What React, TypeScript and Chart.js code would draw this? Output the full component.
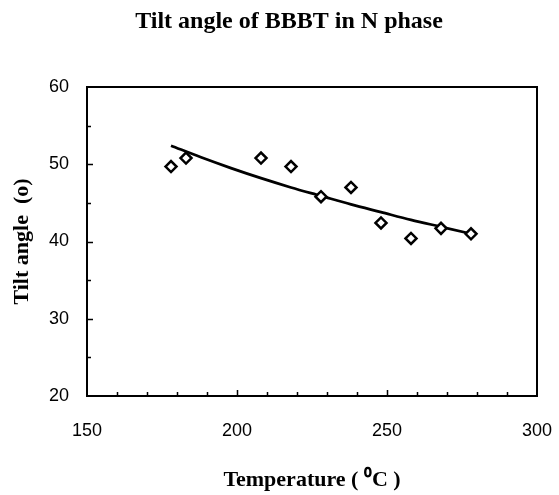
import React, { useEffect, useRef } from "react";
import { Chart, registerables } from "chart.js";

Chart.register(...registerables);

const titleText = "Tilt angle of BBBT in N phase";
const xTitle = "Temperature ( \u2070C )";
const yTitle = "Tilt angle  (o)";

const temperature = [178, 183, 208, 218, 228, 238, 248, 258, 268, 278];
const tiltAngle = [49.7, 50.8, 50.8, 49.7, 45.8, 47.0, 42.4, 40.4, 41.7, 41.0];

const fitTemperature = [178, 188, 198, 208, 218, 228, 238, 248, 258, 268, 278];
const fitAngle = [52.4, 50.9, 49.5, 48.2, 47.0, 45.9, 44.8, 43.8, 42.8, 41.9, 41.0];

const xMin = 150, xMax = 300, xStep = 50, xMinorStep = 10;
const yMin = 20, yMax = 60, yStep = 10, yMinorStep = 5;

const serif = "'Liberation Serif', 'Times New Roman', serif";
const sans = "'Liberation Sans', Arial, sans-serif";

const framePlugin = {
  id: "frame",
  afterDraw(chart: any) {
    const { ctx, chartArea } = chart;
    const xs = chart.scales.x;
    const ys = chart.scales.y;
    ctx.save();
    ctx.strokeStyle = "#000";
    ctx.lineWidth = 2;
    ctx.strokeRect(chartArea.left, chartArea.top, chartArea.right - chartArea.left, chartArea.bottom - chartArea.top);
    ctx.lineWidth = 1.5;
    ctx.beginPath();
    for (let v = xMin + xMinorStep; v < xMax; v += xMinorStep) {
      const px = Math.round(xs.getPixelForValue(v)) + 0.5;
      const len = v % xStep === 0 ? 6 : 4;
      ctx.moveTo(px, chartArea.bottom);
      ctx.lineTo(px, chartArea.bottom - len);
    }
    for (let v = yMin + yMinorStep; v < yMax; v += yMinorStep) {
      const py = Math.round(ys.getPixelForValue(v)) + 0.5;
      const len = v % yStep === 0 ? 6 : 4;
      ctx.moveTo(chartArea.left, py);
      ctx.lineTo(chartArea.left + len, py);
    }
    ctx.stroke();
    ctx.fillStyle = "#000";
    ctx.font = `bold 24px ${serif}`;
    ctx.textAlign = "center";
    ctx.textBaseline = "middle";
    ctx.fillText(titleText, 289, 22);
    ctx.restore();
  },
};

export default function App() {
  const ref = useRef<HTMLCanvasElement>(null);
  useEffect(() => {
    if (!ref.current) return;
    const chart = new Chart(ref.current, {
      type: "scatter",
      data: {
        datasets: [
          {
            label: "Fit",
            data: fitTemperature.map((x, i) => ({ x, y: fitAngle[i] })),
            showLine: true,
            borderColor: "#000",
            borderWidth: 2.7,
            pointRadius: 0,
            cubicInterpolationMode: "monotone",
            order: 2,
          },
          {
            label: "Tilt angle",
            data: temperature.map((x, i) => ({ x, y: tiltAngle[i] })),
            pointStyle: "rectRot",
            pointRadius: 5.5,
            pointBorderWidth: 2.5,
            pointBorderColor: "#000",
            pointBackgroundColor: "#fff",
            showLine: false,
            order: 1,
          },
        ],
      },
      options: {
        responsive: false,
        animation: false,
        layout: { padding: { left: 0, right: 22, top: 87, bottom: 0 } },
        plugins: { legend: { display: false }, tooltip: { enabled: false }, title: { display: false } },
        scales: {
          x: {
            type: "linear",
            min: xMin,
            max: xMax,
            grid: { display: false, drawTicks: true, tickLength: 24 },
            border: { display: false },
            ticks: { stepSize: xStep, color: "#000", font: { family: sans, size: 18 }, padding: 0 },
            title: { display: true, text: xTitle, color: "#000", font: { family: serif, size: 22, weight: "bold" }, padding: { top: 0, bottom: 1 } },
            afterFit(scale: any) { scale.height = 99; },
          },
          y: {
            type: "linear",
            min: yMin,
            max: yMax,
            grid: { display: false, drawTicks: false },
            border: { display: false },
            ticks: { stepSize: yStep, color: "#000", font: { family: sans, size: 18 }, padding: 18 },
            title: { display: true, text: yTitle, color: "#000", font: { family: serif, size: 22, weight: "bold" }, padding: { top: 9, bottom: 0 } },
            afterFit(scale: any) { scale.width = 87; },
          },
        },
      },
      plugins: [framePlugin],
    });
    return () => chart.destroy();
  }, []);
  return (
    <div style={{ position: "fixed", left: 0, top: 0, width: 559, height: 495, background: "#fff" }}>
      <canvas ref={ref} width={559} height={495} style={{ display: "block" }} />
    </div>
  );
}
